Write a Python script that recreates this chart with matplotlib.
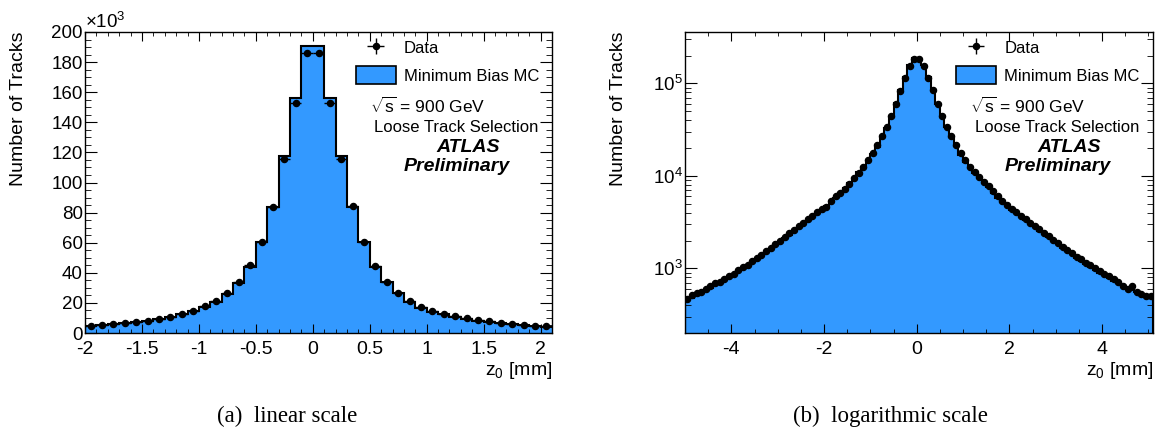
import numpy as np
import matplotlib
matplotlib.use('Agg')
import matplotlib.pyplot as plt
from matplotlib.patches import Patch
from matplotlib.ticker import MultipleLocator, FuncFormatter

plt.rcParams['font.family'] = ['Liberation Sans', 'DejaVu Sans']
plt.rcParams['mathtext.fontset'] = 'custom'
plt.rcParams['mathtext.rm'] = 'Liberation Sans'
plt.rcParams['mathtext.it'] = 'Liberation Sans:italic'
plt.rcParams['mathtext.bf'] = 'Liberation Sans:bold'
plt.rcParams['axes.unicode_minus'] = False

## z0 histogram, 0.1 mm bins from -5 to 5.1 mm (same binning in both panels)
bin_lo, bin_hi, bin_width = -5.0, 5.1, 0.1

mc_tail_neg = [450, 480, 512, 545, 581, 620, 660, 704, 750, 800,
               860, 930, 1005, 1088, 1177, 1273, 1380, 1500, 1630, 1780,
               1950, 2130, 2320, 2530, 2760, 3010, 3280, 3580, 3900, 4250]
mc_core = [4700, 5200, 5800, 6500, 7400, 8300, 9500, 10900, 12500, 14500,
           17300, 20600, 25900, 33000, 43600, 60700, 84000, 117500, 156400, 190700,
           190700, 156400, 117500, 84000, 60300, 44000, 33600, 26400, 20800, 16800,
           14200, 12300, 10800, 9500, 8300, 7500, 6500, 5800, 5200, 4700, 4300]
mc_tail_pos = [3950, 3620, 3320, 3040, 2790, 2560, 2350, 2160, 1980, 1820,
               1670, 1540, 1420, 1310, 1210, 1120, 1040, 965, 900, 840,
               785, 735, 690, 650, 615, 585, 555, 530, 505, 485]

data_tail_neg = [470, 520, 540, 560, 600, 640, 690, 720, 770, 830,
                 880, 950, 1040, 1100, 1200, 1310, 1400, 1530, 1660, 1830,
                 1990, 2180, 2390, 2590, 2840, 3080, 3380, 3700, 4020, 4400]
data_core = [4600, 5300, 6000, 6600, 7300, 8200, 9500, 10800, 12600, 14800,
             17900, 21500, 26800, 34000, 45000, 60500, 83500, 115500, 153000, 186000,
             186000, 153000, 115500, 84700, 60500, 44500, 33900, 26800, 21500, 17500,
             14800, 12600, 11000, 9800, 8600, 7700, 6800, 6000, 5400, 4900, 4400]
data_tail_pos = [4080, 3730, 3430, 3130, 2880, 2640, 2430, 2230, 2040, 1880,
                 1720, 1590, 1470, 1340, 1250, 1150, 1080, 1010, 930, 880,
                 820, 770, 720, 650, 605, 650, 555, 525, 505, 500]

mc_counts = np.array(mc_tail_neg + mc_core + mc_tail_pos, dtype=float)
data_counts = np.array(data_tail_neg + data_core + data_tail_pos, dtype=float)

edges = np.linspace(bin_lo, bin_hi, len(mc_counts) + 1)
centers = 0.5 * (edges[1:] + edges[:-1])

fill_color = '#3399ff'


def draw_panel(ax, log=False):
    base = 1.0 if log else 0.0
    ax.stairs(mc_counts, edges, baseline=base, fill=True, color=fill_color, zorder=1)
    ax.stairs(mc_counts, edges, baseline=base, color='black', linewidth=1.5, zorder=2)
    eb = ax.errorbar(centers, data_counts, xerr=bin_width / 2, yerr=np.sqrt(data_counts),
                     fmt='o', color='black', markersize=4.4, elinewidth=1.0, capsize=0, zorder=3)

    ax.tick_params(which='both', direction='in', top=True, right=True)
    ax.tick_params(axis='x', which='major', length=6.5, labelsize=14, pad=6)
    ax.tick_params(axis='x', which='minor', length=3.2)
    ax.tick_params(axis='y', which='major', length=8.6, labelsize=13.5, pad=1.5)
    ax.tick_params(axis='y', which='minor', length=4.3)
    for sp in ax.spines.values():
        sp.set_linewidth(1.0)

    ax.set_xlabel('z$_0$ [mm]', fontsize=14, loc='right', labelpad=1)
    ax.set_ylabel('Number of Tracks', fontsize=14, loc='top')
    ax.yaxis.set_label_coords(-0.124, 1.0)

    mc_patch = Patch(facecolor=fill_color, edgecolor='black', linewidth=1.2)
    ax.legend([eb, mc_patch], ['Data', 'Minimum Bias MC'], loc='upper left',
              bbox_to_anchor=(0.565, 1.0), frameon=False, fontsize=12,
              handlelength=2.4, handleheight=1.3, labelspacing=0.55, handletextpad=0.5,
              borderaxespad=0)

    ax.text(0.61, 0.754, r'$\sqrt{\mathrm{s}}$ = 900 GeV', transform=ax.transAxes,
            fontsize=12.5, ha='left', va='center')
    ax.text(0.619, 0.684, 'Loose Track Selection', transform=ax.transAxes,
            fontsize=12, ha='left', va='center')
    ax.text(0.82, 0.617, 'ATLAS', transform=ax.transAxes, fontsize=14,
            fontweight='bold', fontstyle='italic', ha='center', va='center')
    ax.text(0.797, 0.552, 'Preliminary', transform=ax.transAxes, fontsize=14,
            fontweight='bold', fontstyle='italic', ha='center', va='center')


fig = plt.figure(figsize=(11.61, 4.42), dpi=100)

ax1 = fig.add_axes([85 / 1161, 109 / 442, 467 / 1161, 301 / 442])
draw_panel(ax1)
ax1.set_xlim(-2, 2.1)
ax1.set_ylim(0, 200000)
ax1.xaxis.set_major_locator(MultipleLocator(0.5))
ax1.xaxis.set_minor_locator(MultipleLocator(0.1))
ax1.xaxis.set_major_formatter(FuncFormatter(lambda v, p: f'{v:g}'))
ax1.yaxis.set_major_locator(MultipleLocator(20000))
ax1.yaxis.set_minor_locator(MultipleLocator(5000))
ax1.yaxis.set_major_formatter(FuncFormatter(lambda v, p: f'{v / 1000:g}'))
ax1.text(0.0, 1.0, r'$\times$10$^{3}$', transform=ax1.transAxes, fontsize=13.5,
         ha='left', va='bottom')

ax2 = fig.add_axes([685 / 1161, 109 / 442, 468 / 1161, 301 / 442])
ax2.set_yscale('log')
draw_panel(ax2, log=True)
ax2.set_xlim(bin_lo, bin_hi)
ax2.set_ylim(200, 3.6e5)
ax2.xaxis.set_major_locator(MultipleLocator(2))
ax2.xaxis.set_minor_locator(MultipleLocator(0.5))
ax2.xaxis.set_major_formatter(FuncFormatter(lambda v, p: f'{v:g}'))

fig.text(287 / 1161, 1 - 416 / 442, '(a)  linear scale', family='Liberation Serif',
         fontsize=16.5, ha='center', va='center')
fig.text(890 / 1161, 1 - 416 / 442, '(b)  logarithmic scale', family='Liberation Serif',
         fontsize=16.5, ha='center', va='center')

fig.savefig('out.png', dpi=100)
